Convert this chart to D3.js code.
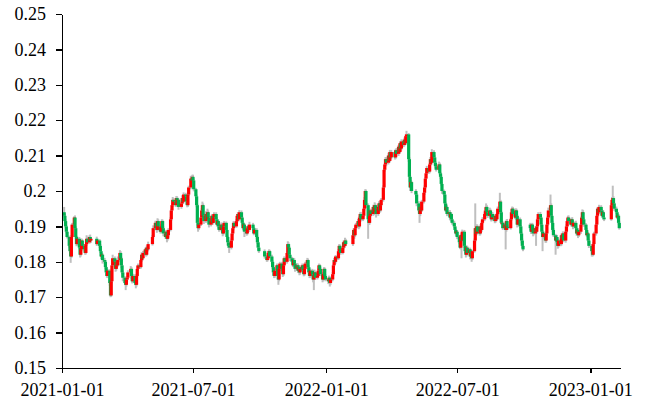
<!DOCTYPE html>
<html>
<head>
<meta charset="utf-8">
<script src="https://cdn.jsdelivr.net/npm/d3@7"></script>
<style>
  html, body { margin: 0; padding: 0; background: #fff; }
  svg { display: block; }
  .axis text { font-family: "Liberation Serif", "Times New Roman", serif; font-size: 18px; fill: #000; }
  .axis path, .axis line { stroke: #000; stroke-width: 1.5px; shape-rendering: crispEdges; }
</style>
</head>
<body>
<svg id="chart" width="654" height="403"></svg>
<script>
// ---------------- DATA ----------------
const months = ["2021-01","2021-02","2021-03","2021-04","2021-05","2021-06","2021-07","2021-08","2021-09","2021-10","2021-11","2021-12",
  "2022-01","2022-02","2022-03","2022-04","2022-05","2022-06","2022-07","2022-08","2022-09","2022-10","2022-11","2022-12",
  "2023-01","2023-02"];
const lastTradingDay = "2023-02-10";
const holidays = ["2021-01-01","2021-02-11","2021-02-12","2021-02-15","2021-02-16","2021-02-17","2021-04-05","2021-05-03","2021-05-04","2021-05-05",
  "2021-06-14","2021-09-20","2021-09-21","2021-10-01","2021-10-04","2021-10-05","2021-10-06","2021-10-07",
  "2022-01-03","2022-01-31","2022-02-01","2022-02-02","2022-02-03","2022-02-04","2022-04-04","2022-04-05","2022-05-02","2022-05-03","2022-05-04",
  "2022-06-03","2022-09-12","2022-10-03","2022-10-04","2022-10-05","2022-10-06","2022-10-07",
  "2023-01-02","2023-01-23","2023-01-24","2023-01-25","2023-01-26","2023-01-27"];
const firstOpen = 0.1940;
const gapDates = ["2022-10-10"];
const gapOpens = [0.1905];

// daily closes, one row per month
const closes = [
  [0.1930,0.1915,0.1900,0.1885,0.1870,0.1845,0.1830,0.1815,0.1870,0.1905,0.1925,0.1895,0.1870,0.1850,0.1865,0.1840,0.1820,0.1835,0.1860,0.1845],
  [0.1835,0.1825,0.1850,0.1865,0.1855,0.1870,0.1860,0.1865,0.1850,0.1860,0.1845,0.1830,0.1815,0.1820,0.1805],
  [0.1800,0.1785,0.1770,0.1760,0.1775,0.1740,0.1705,0.1745,0.1790,0.1810,0.1800,0.1780,0.1800,0.1790,0.1805,0.1825,0.1810,0.1790,0.1770,0.1755,0.1740,0.1735,0.1750],
  [0.1755,0.1770,0.1780,0.1760,0.1745,0.1760,0.1740,0.1735,0.1760,0.1780,0.1790,0.1785,0.1805,0.1820,0.1810,0.1825,0.1835,0.1820,0.1840,0.1835,0.1850],
  [0.1870,0.1895,0.1910,0.1900,0.1890,0.1915,0.1900,0.1885,0.1900,0.1915,0.1895,0.1880,0.1870,0.1885,0.1865,0.1875,0.1890,0.1920],
  [0.1945,0.1960,0.1975,0.1970,0.1960,0.1980,0.1965,0.1975,0.1955,0.1965,0.1980,0.1970,0.1990,0.1985,0.1970,0.1960,0.1990,0.2010,0.2035,0.2030,0.2040],
  [0.2030,0.2005,0.1985,0.1960,0.1910,0.1895,0.1905,0.1925,0.1945,0.1960,0.1930,0.1915,0.1935,0.1920,0.1940,0.1925,0.1905,0.1915,0.1930,0.1910,0.1925,0.1935],
  [0.1920,0.1905,0.1915,0.1900,0.1890,0.1905,0.1895,0.1880,0.1900,0.1910,0.1890,0.1870,0.1855,0.1845,0.1840,0.1860,0.1880,0.1895,0.1910,0.1900,0.1915,0.1930],
  [0.1935,0.1920,0.1940,0.1925,0.1910,0.1895,0.1905,0.1885,0.1880,0.1895,0.1900,0.1890,0.1905,0.1895,0.1880,0.1890,0.1870,0.1855,0.1840,0.1830],
  [0.1815,0.1805,0.1810,0.1825,0.1830,0.1815,0.1800,0.1785,0.1770,0.1760,0.1775,0.1790,0.1760,0.1750,0.1780,0.1795],
  [0.1780,0.1765,0.1790,0.1810,0.1800,0.1825,0.1850,0.1840,0.1820,0.1810,0.1800,0.1790,0.1805,0.1795,0.1780,0.1790,0.1775,0.1785,0.1770,0.1780,0.1790,0.1775],
  [0.1765,0.1780,0.1795,0.1805,0.1785,0.1770,0.1760,0.1775,0.1765,0.1750,0.1760,0.1770,0.1755,0.1760,0.1775,0.1790,0.1780,0.1765,0.1750,0.1765,0.1780,0.1760,0.1750],
  [0.1745,0.1755,0.1740,0.1750,0.1765,0.1790,0.1805,0.1800,0.1815,0.1810,0.1830,0.1845,0.1835,0.1825,0.1840,0.1855,0.1845,0.1860,0.1850],
  [0.1875,0.1890,0.1875,0.1895,0.1905,0.1915,0.1900,0.1925,0.1935,0.1920,0.1930,0.1950,0.1975,0.2000,0.1960,0.1920],
  [0.1910,0.1930,0.1945,0.1935,0.1955,0.1940,0.1960,0.1950,0.1935,0.1955,0.1965,0.1945,0.1960,0.1975,0.2010,0.2060,0.2075,0.2090,0.2080,0.2100,0.2085,0.2110,0.2095],
  [0.2110,0.2095,0.2115,0.2105,0.2125,0.2110,0.2135,0.2120,0.2140,0.2130,0.2145,0.2135,0.2155,0.2160,0.2090,0.2040,0.2010,0.2025,0.2000],
  [0.1990,0.1965,0.1945,0.1935,0.1955,0.1945,0.1970,0.1995,0.2010,0.2035,0.2050,0.2065,0.2055,0.2075,0.2090,0.2080,0.2110,0.2095,0.2080],
  [0.2070,0.2060,0.2075,0.2050,0.2040,0.2020,0.2000,0.1990,0.1965,0.1945,0.1955,0.1935,0.1940,0.1925,0.1935,0.1920,0.1910,0.1900,0.1890,0.1880,0.1885],
  [0.1870,0.1855,0.1840,0.1875,0.1860,0.1885,0.1845,0.1830,0.1820,0.1840,0.1825,0.1835,0.1815,0.1825,0.1810,0.1830,0.1860,0.1895,0.1880,0.1900,0.1885],
  [0.1880,0.1900,0.1890,0.1910,0.1920,0.1935,0.1945,0.1955,0.1940,0.1930,0.1945,0.1935,0.1920,0.1935,0.1925,0.1915,0.1930,0.1920,0.1935,0.1950,0.1970,0.1940,0.1910],
  [0.1910,0.1895,0.1905,0.1890,0.1915,0.1900,0.1895,0.1920,0.1940,0.1950,0.1935,0.1925,0.1945,0.1930,0.1905,0.1920,0.1900,0.1880,0.1860,0.1845,0.1835],
  [0.1895,0.1885,0.1905,0.1890,0.1880,0.1895,0.1885,0.1900,0.1920,0.1935,0.1925,0.1905,0.1885,0.1870,0.1880,0.1860],
  [0.1880,0.1905,0.1925,0.1945,0.1960,0.1930,0.1910,0.1890,0.1875,0.1860,0.1870,0.1855,0.1845,0.1860,0.1850,0.1875,0.1865,0.1880,0.1860,0.1885,0.1900,0.1915],
  [0.1925,0.1915,0.1905,0.1920,0.1910,0.1900,0.1910,0.1895,0.1880,0.1890,0.1875,0.1885,0.1905,0.1925,0.1940,0.1920,0.1905,0.1890,0.1875,0.1880,0.1860,0.1845],
  [0.1830,0.1820,0.1850,0.1880,0.1905,0.1930,0.1950,0.1940,0.1955,0.1945,0.1930,0.1940,0.1925,0.1920,0.1960,0.1975],
  [0.1980,0.1965,0.1950,0.1940,0.1925,0.1930,0.1910,0.1895]
];
// upper / lower shadow beyond the body, in units of 0.0001
const upperShadow = [
  [15,6,5,4,5,4,3,4,6,5,4,6,5,4,7,5,4,5,6,4],
  [5,6,8,10,6,5,7,5,6,5,4,5,6,5,4],
  [6,5,4,6,5,4,5,6,8,10,5,6,5,6,10,8,5,4,5,6,4,5,6],
  [5,6,8,5,4,6,5,4,6,8,5,6,5,7,5,6,5,4,6,5,7],
  [6,8,6,5,4,8,5,4,6,5,4,5,6,5,4,6,5,6],
  [5,6,8,5,4,6,5,6,4,5,8,5,6,5,4,5,6,5,8,5,6],
  [6,5,4,5,4,5,6,8,6,10,5,6,8,5,10,5,4,6,5,4,6,5],
  [5,6,5,4,5,6,5,4,8,5,4,5,4,5,4,6,5,6,5,4,6,5],
  [5,4,6,5,4,5,6,4,5,6,5,4,8,5,4,6,5,4,5,6],
  [5,4,5,6,5,4,5,4,5,4,6,5,4,5,6,5],
  [5,4,6,5,4,6,8,5,4,5,4,5,6,5,4,6,5,4,5,6,5,4],
  [5,6,5,6,4,5,4,6,5,4,5,8,4,5,6,5,4,5,4,6,5,4,5],
  [5,6,4,5,6,5,6,5,4,5,6,5,4,5,6,5,4,8,5],
  [6,5,4,6,5,6,5,4,5,6,5,6,8,5,4,5],
  [5,6,5,4,6,5,8,5,4,5,6,5,4,5,6,5,4,6,5,8,5,6,5],
  [6,5,4,6,5,6,5,4,6,5,6,5,4,10,4,5,6,5,4],
  [5,4,6,5,4,6,5,4,6,5,4,6,5,4,6,5,8,5,6],
  [5,6,8,5,4,6,5,4,6,5,8,5,4,6,5,4,5,6,5,4,5],
  [5,4,6,5,4,6,5,4,5,6,5,4,5,6,5,4,6,70,5,6,5],
  [5,6,4,5,6,5,8,10,5,4,8,5,4,6,5,4,5,6,5,6,25,5,4],
  [5,4,6,5,4,6,5,4,8,6,5,4,6,5,4,6,5,4,5,6,4],
  [5,6,4,5,6,5,4,6,5,5,6,5,4,5,6,5],
  [5,6,5,8,30,5,4,6,5,4,5,6,4,5,6,5,4,6,5,4,6,5],
  [5,6,5,4,6,5,4,6,5,4,5,6,5,4,8,6,5,4,6,5,4,5],
  [5,4,6,5,4,6,5,4,6,5,4,6,5,4,6,8],
  [35,5,4,6,5,4,5,6]
];
const lowerShadow = [
  [5,4,6,5,4,5,6,18,4,5,6,4,5,6,4,5,8,5,4,5],
  [6,5,4,5,6,4,5,6,5,4,6,5,8,6,10],
  [5,6,10,5,6,8,5,4,5,4,6,8,5,6,4,5,6,8,5,10,6,15,5],
  [6,5,4,8,6,5,6,10,5,4,6,5,4,5,8,5,6,5,4,6,5],
  [4,5,6,5,8,4,6,5,4,5,6,8,5,4,10,5,6,4],
  [5,4,5,6,5,4,6,5,8,5,4,6,5,4,8,6,5,4,5,6,5],
  [5,6,5,6,8,10,5,4,5,6,5,8,5,6,5,4,8,5,6,5,4,6],
  [6,5,4,6,5,4,6,8,5,4,6,5,8,6,15,5,4,5,6,5,4,5],
  [5,6,4,5,8,6,5,15,6,5,4,6,5,8,5,4,6,5,6,5],
  [6,5,4,5,6,5,6,5,8,6,5,4,10,15,5,6],
  [6,8,5,4,6,5,4,6,5,8,6,5,4,6,8,5,6,5,8,6,5,6],
  [6,5,4,5,6,8,6,5,6,8,30,5,6,5,4,5,6,5,8,5,4,6,5],
  [8,5,10,6,5,4,5,6,5,4,5,6,8,5,4,5,6,5,6],
  [5,6,10,5,4,5,8,5,4,6,5,4,5,6,8,55],
  [6,5,4,6,5,8,5,4,10,5,4,6,5,4,5,6,5,4,10,5,6,4,5],
  [5,6,5,4,6,5,4,6,5,6,4,6,5,4,8,15,10,5,6],
  [6,8,5,25,6,5,4,5,6,5,4,5,6,5,4,6,5,4,6],
  [6,5,4,5,6,5,8,6,5,4,5,6,5,8,5,6,5,4,6,5,8],
  [6,5,4,5,50,5,6,5,8,5,6,5,8,6,10,5,4,5,6,5,4],
  [6,5,8,5,4,5,6,5,4,6,5,4,6,5,8,6,5,4,5,4,5,6,5],
  [6,5,4,55,5,6,5,4,5,6,5,4,6,5,8,5,6,5,8,6,5],
  [5,6,5,4,8,5,40,5,6,5,4,6,5,40,5,6],
  [6,5,4,5,6,5,4,6,5,40,5,6,8,5,6,5,4,6,5,6,5,4],
  [6,5,4,6,5,8,5,4,6,5,8,5,6,5,4,5,6,5,4,6,5,6],
  [15,5,4,5,6,5,4,6,5,6,5,4,6,5,4,5],
  [5,4,6,5,4,6,5,4]
];
const xTickDates = ["2021-01-01","2021-07-01","2022-01-01","2022-07-01","2023-01-01"];
const xDomain = ["2021-01-01","2023-02-11"];
const yTicks = [0.15,0.16,0.17,0.18,0.19,0.20,0.21,0.22,0.23,0.24,0.25];
const yDomain = [0.15,0.25];

// ---------------- BUILD ----------------
const parse = d3.utcParse("%Y-%m-%d");
const fmt = d3.utcFormat("%Y-%m-%d");
const holidaySet = new Set(holidays);
const lastDay = parse(lastTradingDay);

function tradingDays(monthStr) {
  const [yy, mm] = monthStr.split("-").map(Number);
  const out = [];
  for (let d = 1; d <= 31; d++) {
    const dt = new Date(Date.UTC(yy, mm - 1, d));
    if (dt.getUTCMonth() !== mm - 1) break;
    const wd = dt.getUTCDay();
    if (wd === 0 || wd === 6) continue;
    if (holidaySet.has(fmt(dt))) continue;
    if (dt > lastDay) continue;
    out.push(dt);
  }
  return out;
}

const data = [];
let prevClose = firstOpen;
months.forEach((m, i) => {
  const days = tradingDays(m);
  const n = Math.min(days.length, closes[i].length);
  for (let j = 0; j < n; j++) {
    const key = fmt(days[j]);
    const gi = gapDates.indexOf(key);
    const open = gi >= 0 ? gapOpens[gi] : prevClose;
    const close = closes[i][j];
    const high = Math.max(open, close) + upperShadow[i][j] / 10000;
    const low = Math.min(open, close) - lowerShadow[i][j] / 10000;
    data.push({ date: days[j], open, close, high, low });
    prevClose = close;
  }
});

// ---------------- DRAW ----------------
const svg = d3.select("#chart");
svg.append("rect").attr("width", 654).attr("height", 403).attr("fill", "#fff");

const x = d3.scaleUtc().domain(xDomain.map(parse)).range([62, 620]);
const y = d3.scaleLinear().domain(yDomain).range([368, 14]);

const bodyW = 3.2;

svg.append("g").selectAll("line").data(data).join("line")
  .attr("x1", d => x(d.date)).attr("x2", d => x(d.date))
  .attr("y1", d => y(d.high)).attr("y2", d => y(d.low))
  .attr("stroke", "#bfbfbf").attr("stroke-width", 2);

svg.append("g").selectAll("rect").data(data).join("rect")
  .attr("x", d => x(d.date) - bodyW / 2)
  .attr("width", bodyW)
  .attr("y", d => y(Math.max(d.open, d.close)))
  .attr("height", d => Math.max(1.2, Math.abs(y(d.open) - y(d.close))))
  .attr("fill", d => d.close >= d.open ? "#ff0000" : "#00b050");

svg.append("g").attr("class", "axis")
  .attr("transform", "translate(62,0)")
  .call(d3.axisLeft(y).tickValues(yTicks).tickSize(6).tickSizeOuter(0).tickPadding(10)
    .tickFormat(v => String(+v.toFixed(2))));

svg.append("g").attr("class", "axis")
  .attr("transform", "translate(0,368)")
  .call(d3.axisBottom(x).tickValues(xTickDates.map(parse)).tickSize(5).tickSizeOuter(0).tickPadding(10)
    .tickFormat(fmt));
</script>
</body>
</html>
